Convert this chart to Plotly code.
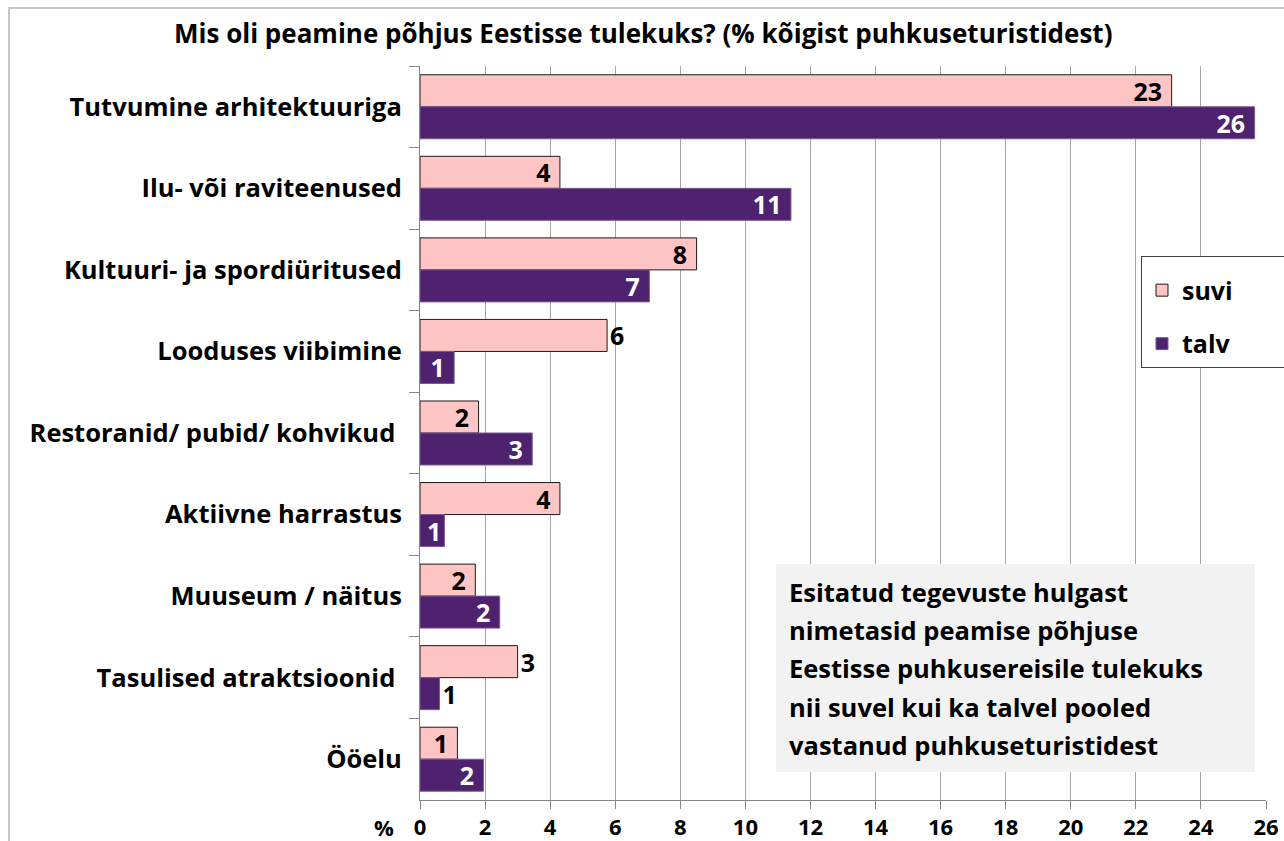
import plotly.graph_objects as go

NB = "\u00a0"
categories = [
    "Tutvumine arhitektuuriga",
    "Ilu- või raviteenused",
    "Kultuuri- ja spordiüritused",
    "Looduses viibimine",
    "Restoranid/ pubid/ kohvikud" + NB,
    "Aktiivne harrastus",
    "Muuseum / näitus",
    "Tasulised atraktsioonid" + NB,
    "Ööelu",
]
suvi = [23.1, 4.3, 8.5, 5.75, 1.8, 4.3, 1.7, 3.0, 1.15]
talv = [25.65, 11.4, 7.05, 1.05, 3.45, 0.75, 2.45, 0.6, 1.95]
suvi_labels = ["23", "4", "8", "6", "2", "4", "2", "3", "1"]
talv_labels = ["26", "11", "7", "1", "3", "1", "2", "1", "2"]
suvi_pos = ["inside", "inside", "inside", "outside", "inside", "inside", "inside", "outside", "inside"]
talv_pos = ["inside", "inside", "inside", "inside", "inside", "inside", "inside", "outside", "inside"]
talv_txtcol = ["white", "white", "white", "white", "white", "white", "white", "black", "white"]
xticks = list(range(0, 27, 2))
note_lines = [
    "Esitatud tegevuste hulgast",
    "nimetasid peamise põhjuse",
    "Eestisse puhkusereisile tulekuks",
    "nii suvel kui ka talvel pooled",
    "vastanud puhkuseturistidest",
]
title = "Mis oli peamine põhjus Eestisse tulekuks? (% kõigist puhkuseturistidest)"

def pad_labels(labels, positions, values):
    out = []
    for lab, pos, v in zip(labels, positions, values):
        if pos == "inside" and v >= 1.0:
            out.append(lab + NB)
        else:
            out.append(lab)
    return out

FONT = "'Open Sans', Lato, sans-serif"
W, H = 1284, 841
L, R, T, B = 420, 1266, 66, 800

fig = go.Figure()
fig.add_trace(go.Bar(
    y=categories, x=suvi, orientation="h", name="suvi" + NB * 8,
    marker=dict(color="#ffc4c4", line=dict(color="#1a1a1a", width=1)),
    text=pad_labels(suvi_labels, suvi_pos, suvi), textposition=suvi_pos,
    insidetextanchor="end", textangle=0,
    constraintext="none", cliponaxis=False,
    textfont=dict(family=FONT, size=25, color="black", weight="bold"),
    legendgroup="a",
))
fig.add_trace(go.Bar(
    y=categories, x=talv, orientation="h", name="talv",
    marker=dict(color="#4f2270", line=dict(color="#7b5a96", width=1)),
    text=pad_labels(talv_labels, talv_pos, talv), textposition=talv_pos,
    insidetextanchor="end", textangle=0,
    constraintext="none", cliponaxis=False,
    textfont=dict(family=FONT, size=25, color=talv_txtcol, weight="bold"),
    legendgroup="b",
))

pw, ph = R - L, B - T
def px(x):
    return (x - L) / pw
def py(y):
    return (B - y) / ph

shapes = [
    dict(type="rect", xref="paper", yref="paper", x0=px(776), x1=px(1255),
         y0=py(772), y1=py(564), fillcolor="#f2f2f2", line=dict(width=0), layer="above"),
    dict(type="rect", xref="paper", yref="paper", x0=px(9), x1=px(1295),
         y0=py(900), y1=py(8), fillcolor="rgba(0,0,0,0)", line=dict(color="#c8c8c8", width=2)),
]

annotations = [dict(
    text=title, xref="paper", yref="paper", x=px(643), y=py(33),
    xanchor="center", yanchor="middle", showarrow=False,
    font=dict(family=FONT, size=26, color="black", weight="bold"),
)]
y0 = 592
for i, line in enumerate(note_lines):
    annotations.append(dict(
        text=line, xref="paper", yref="paper", x=px(787), y=py(y0 + i * 38.2),
        xanchor="left", yanchor="middle", showarrow=False,
        font=dict(family=FONT, size=25.5, color="black", weight="bold"),
    ))
annotations.append(dict(
    text="%", xref="paper", yref="paper", x=px(384), y=py(827),
    xanchor="center", yanchor="middle", showarrow=False,
    font=dict(family=FONT, size=22, color="black", weight="bold"),
))

fig.update_layout(
    width=W, height=H,
    margin=dict(l=L, r=W - R, t=T, b=H - B, pad=0, autoexpand=False),
    paper_bgcolor="white", plot_bgcolor="white",
    barmode="group", bargap=0.215, bargroupgap=0,
    xaxis=dict(range=[0, 26], tickvals=xticks, showgrid=True, gridcolor="#a6a6a6", gridwidth=1,
               showline=True, linecolor="#868686", linewidth=1, ticks="outside", ticklen=8,
               tickcolor="#868686", zeroline=False, automargin=False,
               tickfont=dict(family=FONT, size=22, color="black", weight="bold")),
    yaxis=dict(autorange="reversed", showline=True, linecolor="#868686", linewidth=1,
               ticks="outside", ticklen=10, tickcolor="#868686", tickson="boundaries",
               showgrid=False, automargin=False, ticklabelstandoff=12,
               tickfont=dict(family=FONT, size=25.5, color="black", weight="bold")),
    legend=dict(x=px(1141), y=py(256), xanchor="left", yanchor="top",
                bgcolor="white", bordercolor="#404040", borderwidth=1,
                font=dict(family=FONT, size=25, color="black", weight="bold"),
                title=dict(text=" ", font=dict(size=8)),
                traceorder="grouped", tracegroupgap=18, itemwidth=30),
    shapes=shapes, annotations=annotations,
)

fig.write_html("out.html", config={"displayModeBar": False},
               post_script="document.body.style.margin='0';document.body.style.overflow='hidden';")
